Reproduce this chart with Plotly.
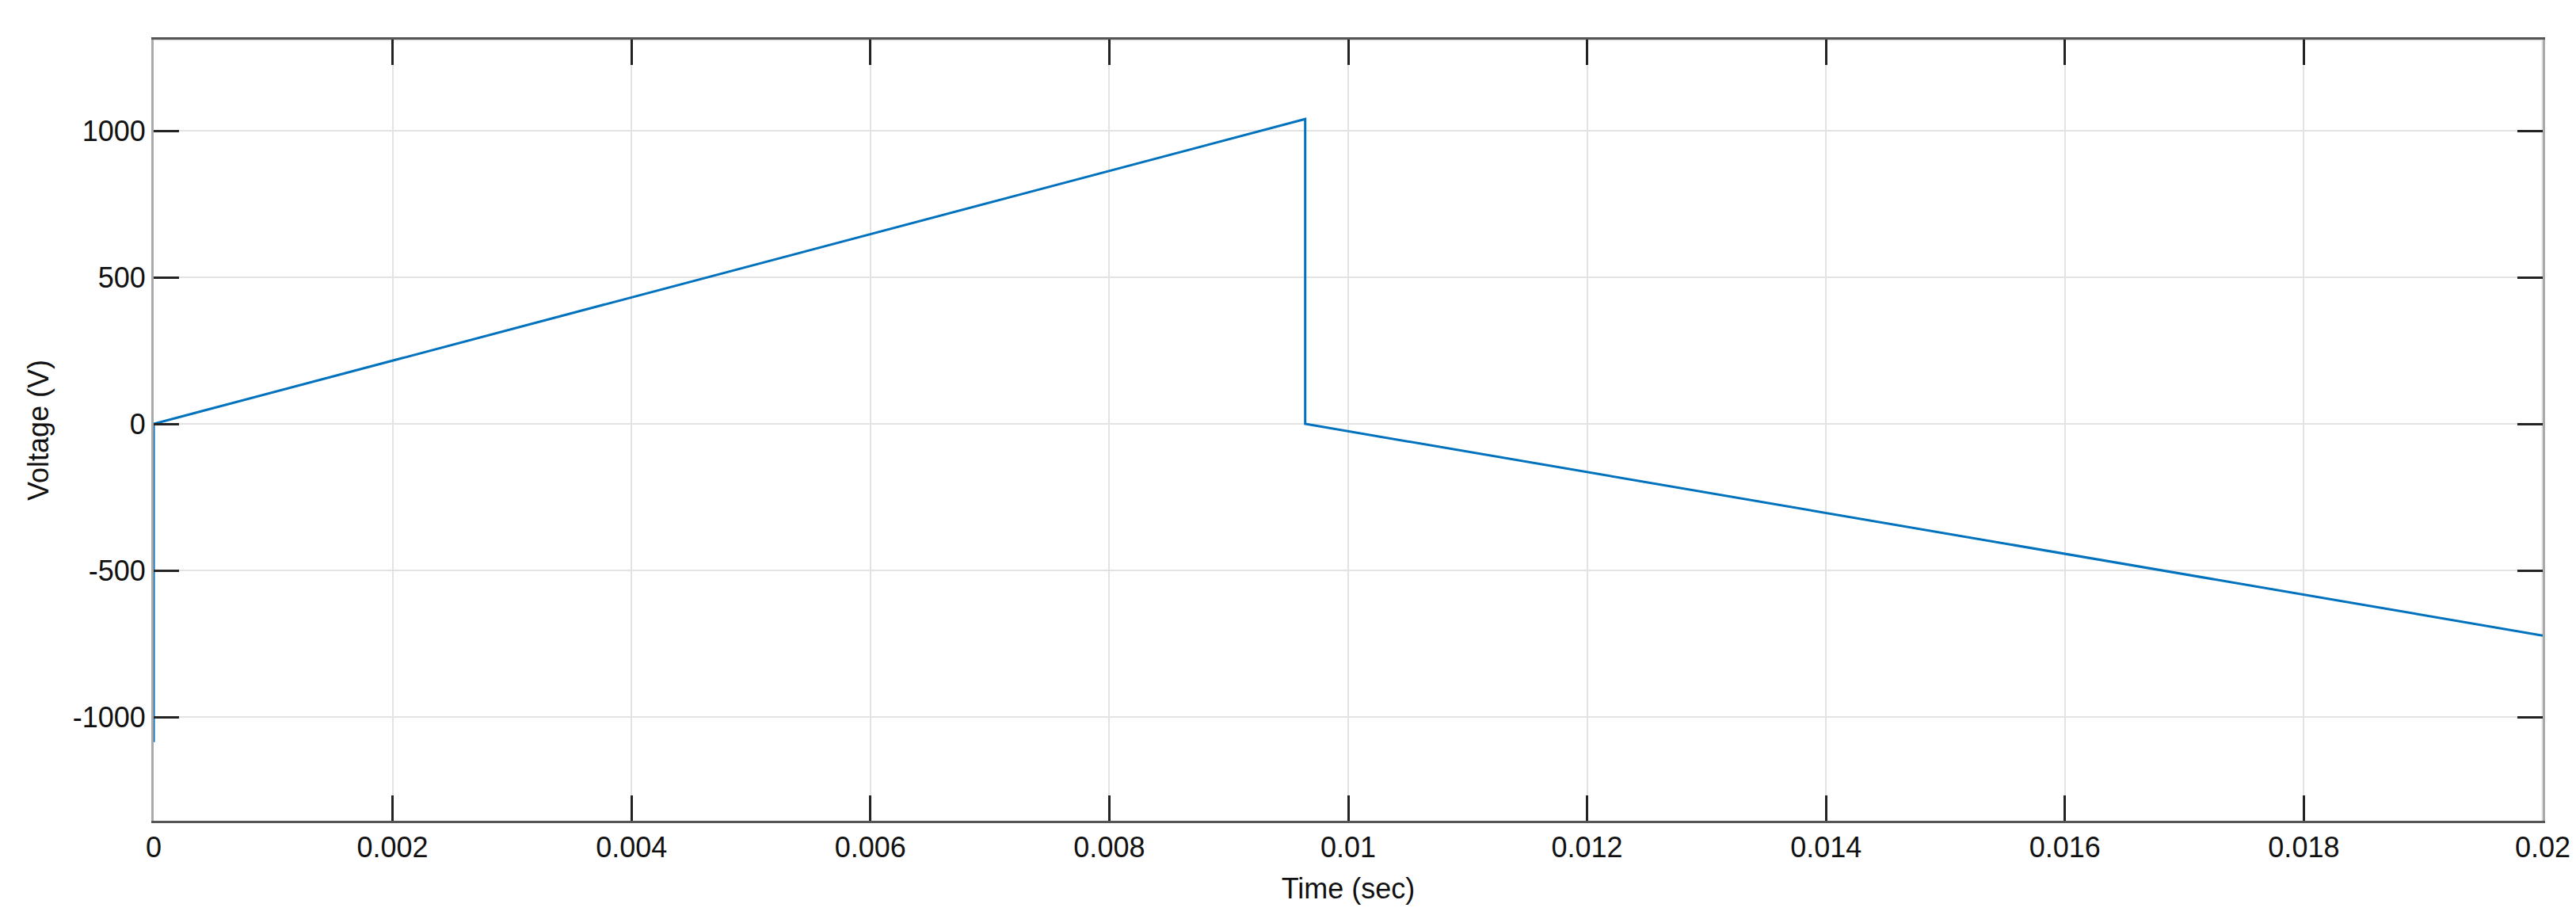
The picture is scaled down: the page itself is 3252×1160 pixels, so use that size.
import plotly.graph_objects as go

time_s = [0.0, 0.0, 0.00964, 0.00964, 0.02]
voltage_v = [-1086, 0, 1040, 0, -722]
x_ticks = [0, 0.002, 0.004, 0.006, 0.008, 0.01, 0.012, 0.014, 0.016, 0.018, 0.02]
x_labels = ["0", "0.002", "0.004", "0.006", "0.008", "0.01", "0.012", "0.014", "0.016", "0.018", "0.02"]
y_ticks = [-1000, -500, 0, 500, 1000]
y_labels = ["-1000", "-500", "0", "500", "1000"]

fig = go.Figure(go.Scatter(x=time_s, y=voltage_v, mode="lines",
                           line=dict(color="#0072BD", width=3), showlegend=False))
axis_common = dict(showgrid=True, gridcolor="#E3E3E3", gridwidth=2, zeroline=False,
                   showline=True, linewidth=3, mirror="ticks", ticks="inside",
                   ticklen=32, tickwidth=3, tickcolor="#222222",
                   tickfont=dict(family="Liberation Sans, Arial", size=36, color="#111111"))
fig.update_xaxes(range=[0, 0.02], tickvals=x_ticks, ticktext=x_labels, linecolor="#555555",
                 title=dict(text="Time (sec)", font=dict(family="Liberation Sans, Arial", size=36, color="#111111"), standoff=20),
                 **axis_common)
fig.update_yaxes(range=[-1354, 1311], tickvals=y_ticks, ticktext=y_labels, linecolor="#AAAAAA",
                 title=dict(text="Voltage (V)", font=dict(family="Liberation Sans, Arial", size=36, color="#111111"), standoff=20),
                 **axis_common)
fig.add_shape(type="line", xref="paper", yref="paper", x0=0, x1=1, y0=1, y1=1,
              line=dict(color="#E3E3E3", width=3), layer="below")
fig.add_shape(type="line", xref="paper", yref="paper", x0=1, x1=1, y0=0, y1=1,
              line=dict(color="#E3E3E3", width=3), layer="below")
fig.update_layout(width=3252, height=1160, margin=dict(l=186, r=50, t=42, b=132),
                  plot_bgcolor="white", paper_bgcolor="white")
fig.write_html("out.html")
